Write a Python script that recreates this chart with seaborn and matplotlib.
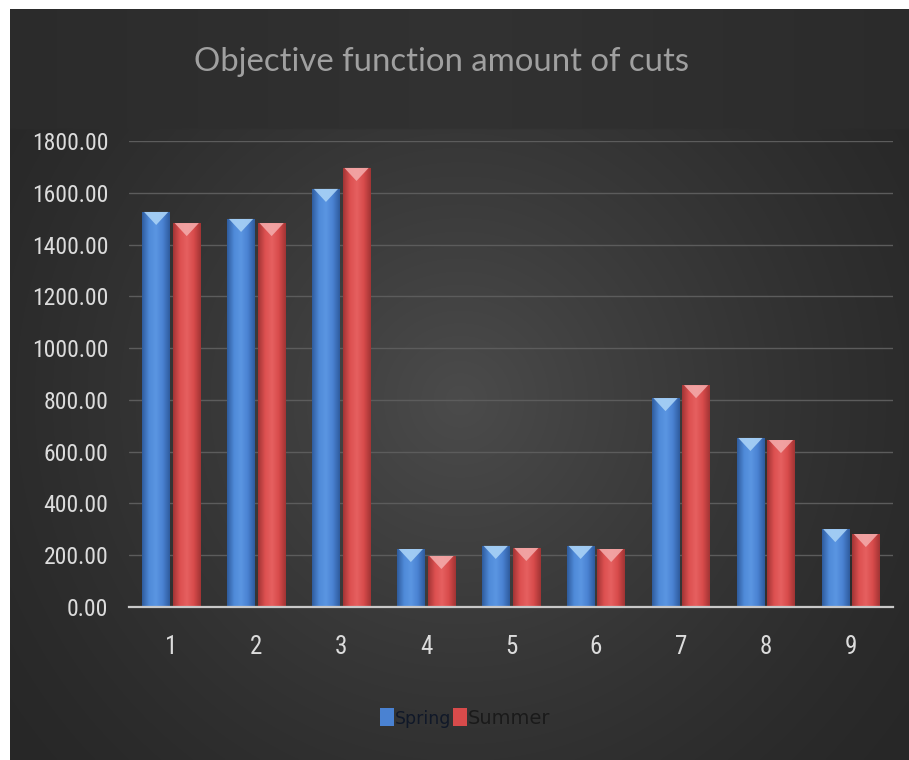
import numpy as np
import pandas as pd
import matplotlib
matplotlib.use("Agg")
import matplotlib.pyplot as plt
from matplotlib import font_manager
from matplotlib.colors import LinearSegmentedColormap
from matplotlib.patches import Polygon, Patch
import seaborn as sns

# ---- data -------------------------------------------------------------
categories = ["1", "2", "3", "4", "5", "6", "7", "8", "9"]
spring = [1526, 1499, 1615, 224, 236, 236, 807, 653, 301]
summer = [1483, 1483, 1696, 197, 228, 224, 857, 645, 282]
series_names = ["Spring", "Summer"]
y_ticks = [0, 200, 400, 600, 800, 1000, 1200, 1400, 1600, 1800]
title_text = "Objective function amount of cuts"

df = pd.DataFrame({
    "case": categories * 2,
    "value": spring + summer,
    "season": [series_names[0]] * len(categories) + [series_names[1]] * len(categories),
})

# ---- fonts: prefer a narrow face for the axes --------------------------
sns.set_theme(style="dark")
installed = {f.name for f in font_manager.fontManager.ttflist}
narrow_candidates = ["Roboto Condensed", "Liberation Sans Narrow",
                     "Open Sans Condensed", "DejaVu Sans Condensed"]
narrow = next((n for n in narrow_candidates if n in installed), None)
if narrow is None:
    narrow = "DejaVu Sans"
    plt.rcParams["font.stretch"] = "condensed"
plt.rcParams["font.family"] = [narrow, "DejaVu Sans"]
title_family = ["Lato", "DejaVu Sans"] if "Lato" in installed else [narrow, "DejaVu Sans"]

W, H = 909, 760
fig = plt.figure(figsize=(W / 100, H / 100), dpi=100, facecolor="white")

# ---- background panel with soft radial light -------------------------
bg = fig.add_axes([10 / W, 0, (W - 10) / W, (H - 9) / H], zorder=0)
bg.set_axis_off()
ny, nx = 400, 480
yy, xx = np.mgrid[0:ny, 0:nx]
cx, cy = nx * 0.5, ny * 0.52
r = np.sqrt(((xx - cx) / (nx * 0.62)) ** 2 + ((yy - cy) / (ny * 0.75)) ** 2)
lum = 0.155 + 0.14 * np.clip(1 - r, 0, 1) ** 1.3
band = yy < ny * (119 / 751)
lum = np.where(band, 0.165 + 0.03 * np.clip(1 - np.abs(xx - cx) / (nx * 0.6), 0, 1), lum)
bg.imshow(np.dstack([lum, lum, lum]), aspect="auto", extent=[0, 1, 0, 1],
          interpolation="bilinear")
bg.set_xlim(0, 1)
bg.set_ylim(0, 1)

# ---- main axes ---------------------------------------------------------
ax = fig.add_axes([129 / W, (H - 607) / H, 764 / W, 466 / H], zorder=2)
ax.patch.set_alpha(0)

palette = {"Spring": "#4a82d2", "Summer": "#d84b4b"}
sns.barplot(data=df, x="case", y="value", hue="season", order=categories,
            hue_order=series_names, palette=palette, width=0.72, gap=0.1,
            saturation=1, legend=False, ax=ax, zorder=3)

ax.set_ylim(0, 1800)
ax.set_xlim(-0.5, len(categories) - 0.5)
ax.set_yticks(y_ticks)
ax.set_yticklabels([f"{v:.2f}" for v in y_ticks])
ax.set_xlabel("")
ax.set_ylabel("")
ax.grid(axis="y", color="#5c5c5c", linewidth=1.0, zorder=1)
ax.grid(axis="x", visible=False)
for side in ["top", "right", "left"]:
    ax.spines[side].set_visible(False)
ax.spines["bottom"].set_color("#c9c9c9")
ax.spines["bottom"].set_linewidth(1.6)
ax.spines["bottom"].set_zorder(6)
ax.tick_params(axis="both", length=0, colors="#dcdcdc", labelsize=17)
ax.tick_params(axis="y", pad=15)
ax.tick_params(axis="x", pad=20, labelsize=18)

# shaded cylinders with a lighter cap
shade = {
    "Spring": LinearSegmentedColormap.from_list(
        "sp", ["#2f5c9e", "#4f8ad8", "#5b96e2", "#4a82d2", "#2f5c9e"]),
    "Summer": LinearSegmentedColormap.from_list(
        "su", ["#a23434", "#dc5050", "#e66060", "#d84b4b", "#a23434"]),
}
cap = {"Spring": "#a9d2f6", "Summer": "#f3a9a9"}
grad = np.linspace(0, 1, 64).reshape(1, -1)
cap_depth = 0.028 * (ax.get_ylim()[1] - ax.get_ylim()[0])
bars = list(ax.patches)
n = len(categories)
for i, p in enumerate(bars):
    season = series_names[i // n]
    x0, w, h = p.get_x(), p.get_width(), p.get_height()
    p.set_edgecolor("none")
    im = ax.imshow(grad, cmap=shade[season], aspect="auto",
                   extent=[x0, x0 + w, 0, h], zorder=4, interpolation="bilinear")
    im.set_clip_path(p)
    tri = Polygon([[x0 + w * 0.06, h], [x0 + w * 0.94, h],
                   [x0 + w * 0.5, h - cap_depth]],
                  closed=True, facecolor=cap[season], edgecolor="none",
                  alpha=0.9, zorder=5)
    ax.add_patch(tri)
ax.set_xlim(-0.5, len(categories) - 0.5)
ax.set_ylim(0, 1800)

# ---- title -------------------------------------------------------------
fig.text(442 / W, 1 - 62 / H, title_text, ha="center", va="center",
         fontsize=23.7, color="#a0a0a0", family=title_family)

# ---- legend ------------------------------------------------------------
handles = [Patch(facecolor=palette[s], edgecolor="none", label=s) for s in series_names]
leg = fig.legend(handles=handles, loc="center", bbox_to_anchor=(465 / W, 1 - 718 / H),
                 ncol=2, frameon=False, handlelength=0.72, handleheight=1.0,
                 handletextpad=0.05, columnspacing=0.1, fontsize=14,
                 prop={"family": ["DejaVu Sans"], "size": 14})
t_spring, t_summer = leg.get_texts()
t_spring.set_fontsize(12.5)
t_spring.set_color("#101828")
t_summer.set_color("#1a1a1a")

fig.savefig("out.png", dpi=100, facecolor="white")
